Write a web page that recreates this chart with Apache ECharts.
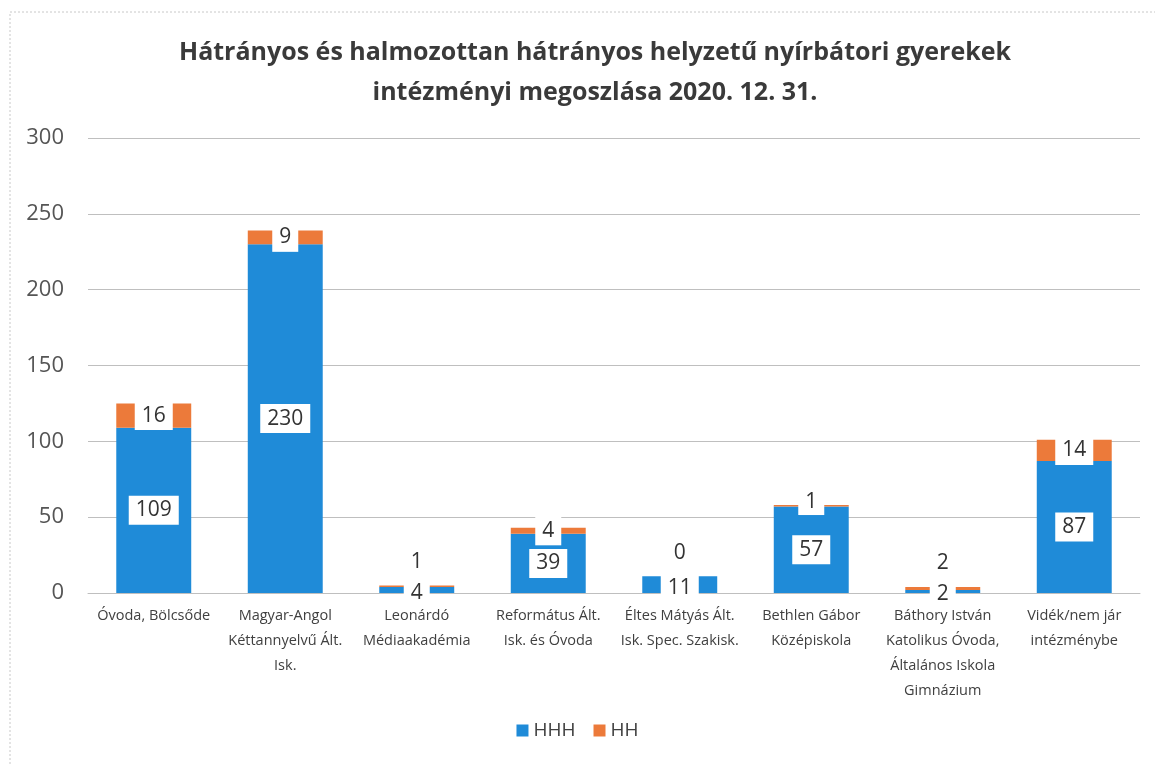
<!DOCTYPE html>
<html>
<head>
<meta charset="utf-8">
<script src="https://cdn.jsdelivr.net/npm/echarts@6/dist/echarts.min.js"></script>
<style>
  html, body { margin: 0; padding: 0; background: #fff; }
  #chart { width: 1155px; height: 765px; }
</style>
</head>
<body>
<div id="chart"></div>
<script>
var categories = [
  "Óvoda, Bölcsőde",
  "Magyar-Angol\nKéttannyelvű Ált.\nIsk.",
  "Leonárdó\nMédiaakadémia",
  "Református Ált.\nIsk. és Óvoda",
  "Éltes Mátyás Ált.\nIsk. Spec. Szakisk.",
  "Bethlen Gábor\nKözépiskola",
  "Báthory István\nKatolikus Óvoda,\nÁltalános Iskola\nGimnázium",
  "Vidék/nem jár\nintézménybe"
];
var hhh = [109, 230, 4, 39, 11, 57, 2, 87];
var hh = [16, 9, 1, 4, 0, 1, 2, 14];
var yTicks = [0, 50, 100, 150, 200, 250, 300];

var font = "'Open Sans', 'Noto Sans', sans-serif";
var chart = echarts.init(document.getElementById("chart"));

var boxLabel = {
  show: true,
  position: "inside",
  color: "#333",
  fontSize: 21,
  fontFamily: font,
  backgroundColor: "#fff",
  padding: [5, 7, 3, 7]
};

var option = {
  backgroundColor: "#fff",
  animation: false,
  title: {
    text: "Hátrányos és halmozottan hátrányos helyzetű nyírbátori gyerekek\nintézményi megoszlása 2020. 12. 31.",
    left: 590,
    top: 28,
    textAlign: "center",
    textStyle: {
      fontFamily: font,
      fontSize: 25,
      fontWeight: "bold",
      color: "#3a3a3a",
      lineHeight: 40
    }
  },
  graphic: [{
    type: "rect",
    shape: { x: 10, y: 12, width: 1160, height: 770 },
    style: { fill: "none", stroke: "#c8c8c8", lineWidth: 1, lineDash: [2, 2] },
    silent: true
  }],
  legend: {
    data: ["HHH", "HH"],
    bottom: 20,
    left: "center",
    itemWidth: 12,
    itemHeight: 12,
    itemGap: 18,
    icon: "rect",
    textStyle: { fontFamily: font, fontSize: 19, color: "#404040" }
  },
  grid: { left: 88, right: 15, top: 138, bottom: 172 },
  xAxis: {
    type: "category",
    data: categories,
    axisLine: { lineStyle: { color: "#bfbfbf" } },
    axisTick: { show: false },
    axisLabel: {
      interval: 0,
      margin: 10,
      fontFamily: font,
      fontSize: 14.5,
      lineHeight: 25,
      color: "#404040"
    }
  },
  yAxis: {
    type: "value",
    min: yTicks[0],
    max: yTicks[yTicks.length - 1],
    interval: 50,
    axisLine: { show: false },
    axisTick: { show: false },
    splitLine: { lineStyle: { color: "#bfbfbf" } },
    axisLabel: { fontFamily: font, fontSize: 22, color: "#555", margin: 24 }
  },
  series: [
    {
      name: "HHH",
      type: "bar",
      stack: "total",
      barWidth: "57%",
      itemStyle: { color: "#1f8bd8" },
      label: boxLabel,
      data: hhh.map(function (v) {
        return {
          value: v,
          label: v < 15 ? { offset: [0, 3] } : {}
        };
      })
    },
    {
      name: "HH",
      type: "bar",
      stack: "total",
      itemStyle: { color: "#ec7a3a" },
      data: hh.map(function (v, i) {
        return {
          value: v,
          label: v <= 2 ? { position: "top", distance: hhh[i] < 15 ? 10 : -10 } : {}
        };
      }),
      label: boxLabel
    }
  ]
};

chart.setOption(option);
window.addEventListener("resize", chart.resize);
</script>
</body>
</html>
